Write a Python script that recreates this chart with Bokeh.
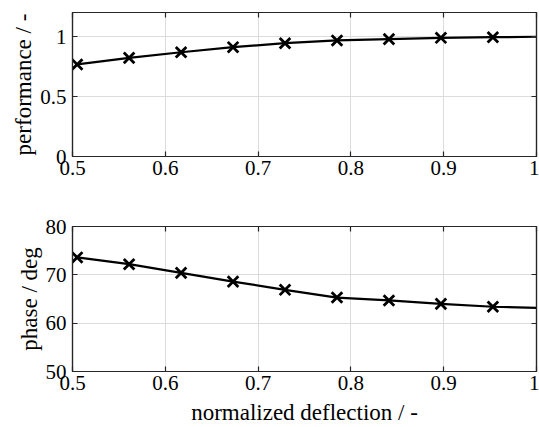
from bokeh.plotting import figure
from bokeh.layouts import column
from bokeh.models import Range1d, FixedTicker, LinearAxis, NumeralTickFormatter
from bokeh.embed import file_html
from bokeh.resources import INLINE

# data
deflection = [0.505, 0.561, 0.617, 0.673, 0.729, 0.785, 0.841, 0.897, 0.953]
performance = [0.767, 0.822, 0.869, 0.911, 0.944, 0.967, 0.978, 0.989, 0.994]
phase = [73.6, 72.2, 70.4, 68.6, 66.9, 65.3, 64.7, 64.0, 63.4]
line_deflection = deflection + [1.0]
line_performance = performance + [0.998]
line_phase = phase + [63.15]

x_ticks = [0.5, 0.6, 0.7, 0.8, 0.9, 1.0]
perf_ticks = [0, 0.5, 1]
phase_ticks = [50, 60, 70, 80]

FONT = "Liberation Serif"
AX = "#262626"
GRID = "#dcdcdc"


def style(p, yticks, xlabel, ylabel):
    p.outline_line_color = AX
    p.outline_line_width = 1.2
    p.xgrid.ticker = FixedTicker(ticks=x_ticks)
    p.ygrid.ticker = FixedTicker(ticks=yticks)
    for g in (p.xgrid[0], p.ygrid[0]):
        g.grid_line_color = GRID
        g.grid_line_width = 1
    for ax, ticks in ((p.xaxis[0], x_ticks), (p.yaxis[0], yticks)):
        ax.ticker = FixedTicker(ticks=ticks)
        ax.formatter = NumeralTickFormatter(format="0.[0]")
        ax.axis_line_color = AX
        ax.axis_line_width = 1.2
        ax.major_tick_line_color = AX
        ax.major_tick_line_width = 1.2
        ax.major_tick_in = 5
        ax.major_tick_out = 0
        ax.minor_tick_in = 0
        ax.minor_tick_out = 0
        ax.major_label_text_font = FONT
        ax.major_label_text_font_size = "21px"
        ax.major_label_text_color = "black"
        ax.axis_label_text_font = FONT
        ax.axis_label_text_font_size = "23px"
        ax.axis_label_text_font_style = "normal"
        ax.axis_label_text_color = "black"
    p.xaxis[0].major_label_standoff = 4
    p.yaxis[0].major_label_standoff = 6
    p.yaxis[0].axis_label_standoff = 1
    p.xaxis[0].axis_label_standoff = 7
    if xlabel:
        p.xaxis[0].axis_label = xlabel
    p.yaxis[0].axis_label = ylabel
    for loc, ticks in (("above", x_ticks), ("right", yticks)):
        a = LinearAxis(ticker=FixedTicker(ticks=ticks),
                       major_label_overrides={t: "" for t in ticks})
        a.major_label_standoff = 0
        a.major_tick_in = 5
        a.major_tick_out = 0
        a.minor_tick_in = 0
        a.minor_tick_out = 0
        a.axis_line_color = AX
        a.axis_line_width = 1.2
        a.major_tick_line_color = AX
        a.major_tick_line_width = 1.2
        p.add_layout(a, loc)


p1 = figure(frame_width=464, frame_height=144, min_border_left=72, min_border_right=3,
            min_border_top=12, min_border_bottom=44,
            x_range=Range1d(0.5, 1.0), y_range=Range1d(0, 1.2),
            output_backend="svg", toolbar_location=None)
style(p1, perf_ticks, None, "performance / -")
p1.line(line_deflection, line_performance, line_color="black", line_width=2.2)
p1.scatter(deflection, performance, marker="x", size=15, line_color="black", line_width=2.8)

p2 = figure(frame_width=464, frame_height=145, min_border_left=72, min_border_right=3,
            min_border_top=26, min_border_bottom=52,
            x_range=Range1d(0.5, 1.0), y_range=Range1d(50, 80),
            output_backend="svg", toolbar_location=None)
style(p2, phase_ticks, "normalized deflection / -", "phase / deg")
p2.line(line_deflection, line_phase, line_color="black", line_width=2.2)
p2.scatter(deflection, phase, marker="x", size=15, line_color="black", line_width=2.8)

for p in (p1, p2):
    p.background_fill_color = "white"
    p.border_fill_color = "white"

layout = column(p1, p2, spacing=0)
open("out.html", "w").write(file_html(layout, INLINE))
